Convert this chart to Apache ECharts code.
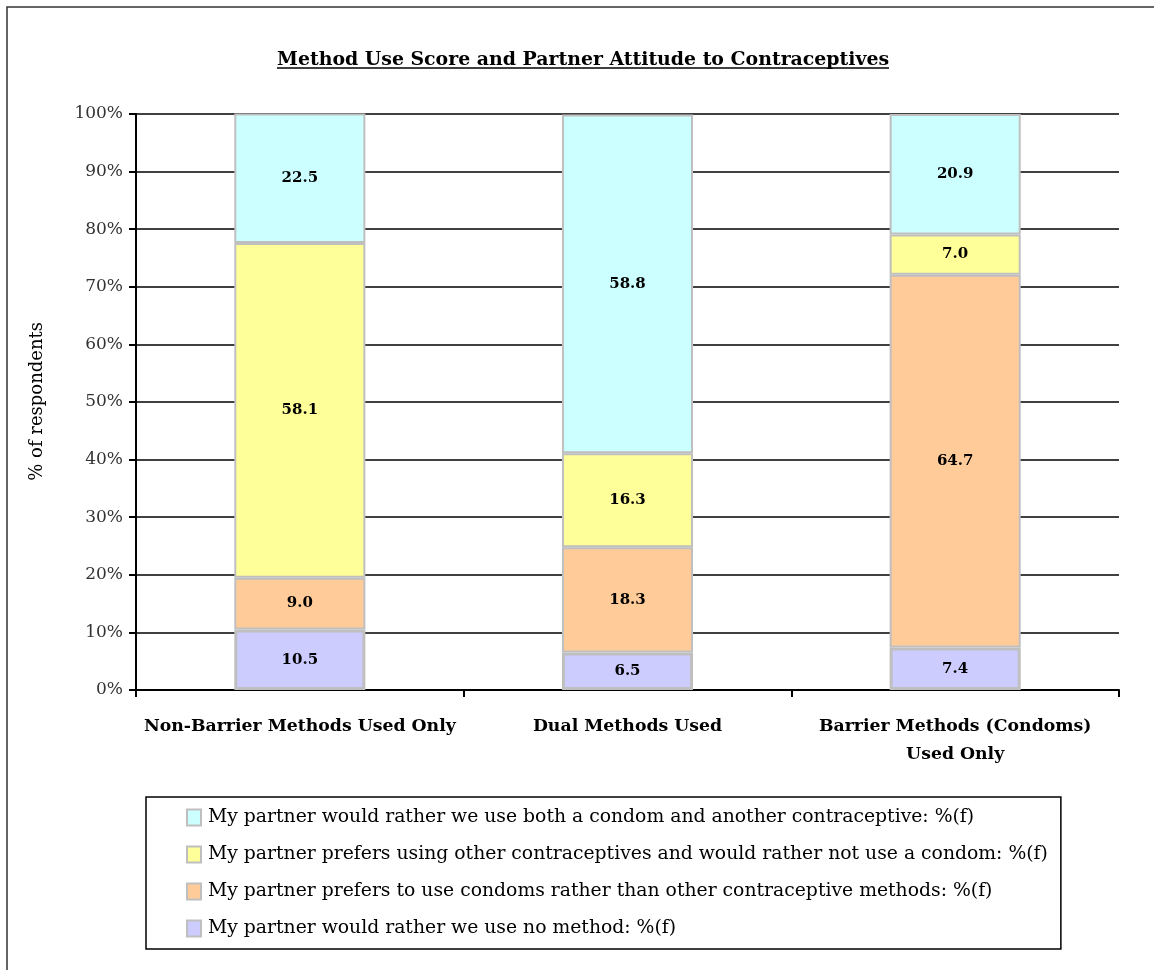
<!DOCTYPE html>
<html><head><meta charset="utf-8">
<script src="https://cdn.jsdelivr.net/npm/echarts@6/dist/echarts.min.js"></script>
<style>html,body{margin:0;padding:0;background:#fff;}#c{width:1154px;height:970px;}</style>
</head><body><div id="c"></div>
<script>
const categories = ['Non-Barrier Methods Used Only', 'Dual Methods Used', 'Barrier Methods (Condoms)\nUsed Only'];
const seriesNames = [
  'My partner would rather we use no method: %(f)',
  'My partner prefers to use condoms rather than other contraceptive methods: %(f)',
  'My partner prefers using other contraceptives and would rather not use a condom: %(f)',
  'My partner would rather we use both a condom and another contraceptive: %(f)'
];
const noMethod = [10.5, 6.5, 7.4];
const condoms = [9.0, 18.3, 64.7];
const otherContra = [58.1, 16.3, 7.0];
const both = [22.5, 58.8, 20.9];
const colors = ['#CCCCFF', '#FFCC99', '#FFFF99', '#CCFFFF'];
const yTicks = [0, 10, 20, 30, 40, 50, 60, 70, 80, 90, 100];

const font = '"DejaVu Serif", "Liberation Serif", serif';
const dataSets = [noMethod, condoms, otherContra, both];
const series = dataSets.map((d, i) => ({
  name: seriesNames[i],
  type: 'bar',
  stack: 'total',
  barWidth: '40%',
  data: d,
  itemStyle: { color: colors[i], borderColor: '#BFBFBF', borderWidth: i === 0 ? 3 : 2 },
  label: {
    show: true, position: 'inside', formatter: p => p.value.toFixed(1),
    fontFamily: font, fontWeight: 'bold', fontSize: 15, color: '#000'
  }
}));

const chart = echarts.init(document.getElementById('c'), null, { renderer: 'canvas' });
chart.setOption({
  animation: false,
  title: {
    text: 'Method Use Score and Partner Attitude to Contraceptives',
    left: 272, top: 46,
    textStyle: { fontFamily: font, fontWeight: 'bold', fontSize: 18.9, color: '#000' }
  },
  graphic: [
    { type: 'rect', shape: { x: 7, y: 7, width: 1160, height: 980 }, style: { fill: 'none', stroke: '#333', lineWidth: 1.5 }, silent: true },
    { type: 'line', shape: { x1: 277, y1: 68, x2: 889, y2: 68 }, style: { stroke: '#000', lineWidth: 1.5 }, silent: true },
    { type: 'text', left: 28, top: 322, rotation: Math.PI / 2,
      style: { text: '% of respondents', font: '18px ' + font, fill: '#000' } }
  ],
  grid: { left: 136, right: 35, top: 114, bottom: 280, containLabel: false },
  legend: {
    orient: 'vertical', left: 146, top: 797,
    padding: [11, 13, 11, 40], itemGap: 18,
    borderColor: '#000', borderWidth: 1.5,
    icon: 'rect', itemWidth: 14, itemHeight: 16,
    data: seriesNames.slice().reverse(),
    textStyle: { fontFamily: font, fontSize: 18.8, color: '#000', padding: [0, 0, 0, 2] },
    itemStyle: { borderColor: '#BFBFBF', borderWidth: 2 }
  },
  xAxis: {
    type: 'category', data: categories,
    axisLine: { lineStyle: { color: '#000', width: 2 } },
    axisTick: { show: true, alignWithLabel: false, length: 7, lineStyle: { color: '#000', width: 2 } },
    axisLabel: { fontFamily: font, fontWeight: 'bold', fontSize: 17.3, color: '#000', margin: 23, lineHeight: 28, interval: 0 }
  },
  yAxis: {
    type: 'value', min: 0, max: 100, interval: 10,
    axisLine: { show: true, lineStyle: { color: '#000', width: 2 } },
    axisTick: { show: true, length: 7, lineStyle: { color: '#000', width: 2 } },
    axisLabel: { formatter: v => yTicks.includes(v) ? v + '%' : '', fontFamily: font, fontSize: 17, color: '#333', margin: 13 },
    splitLine: { lineStyle: { color: '#000', width: 1.5 } }
  },
  series: series
});
</script></body></html>
